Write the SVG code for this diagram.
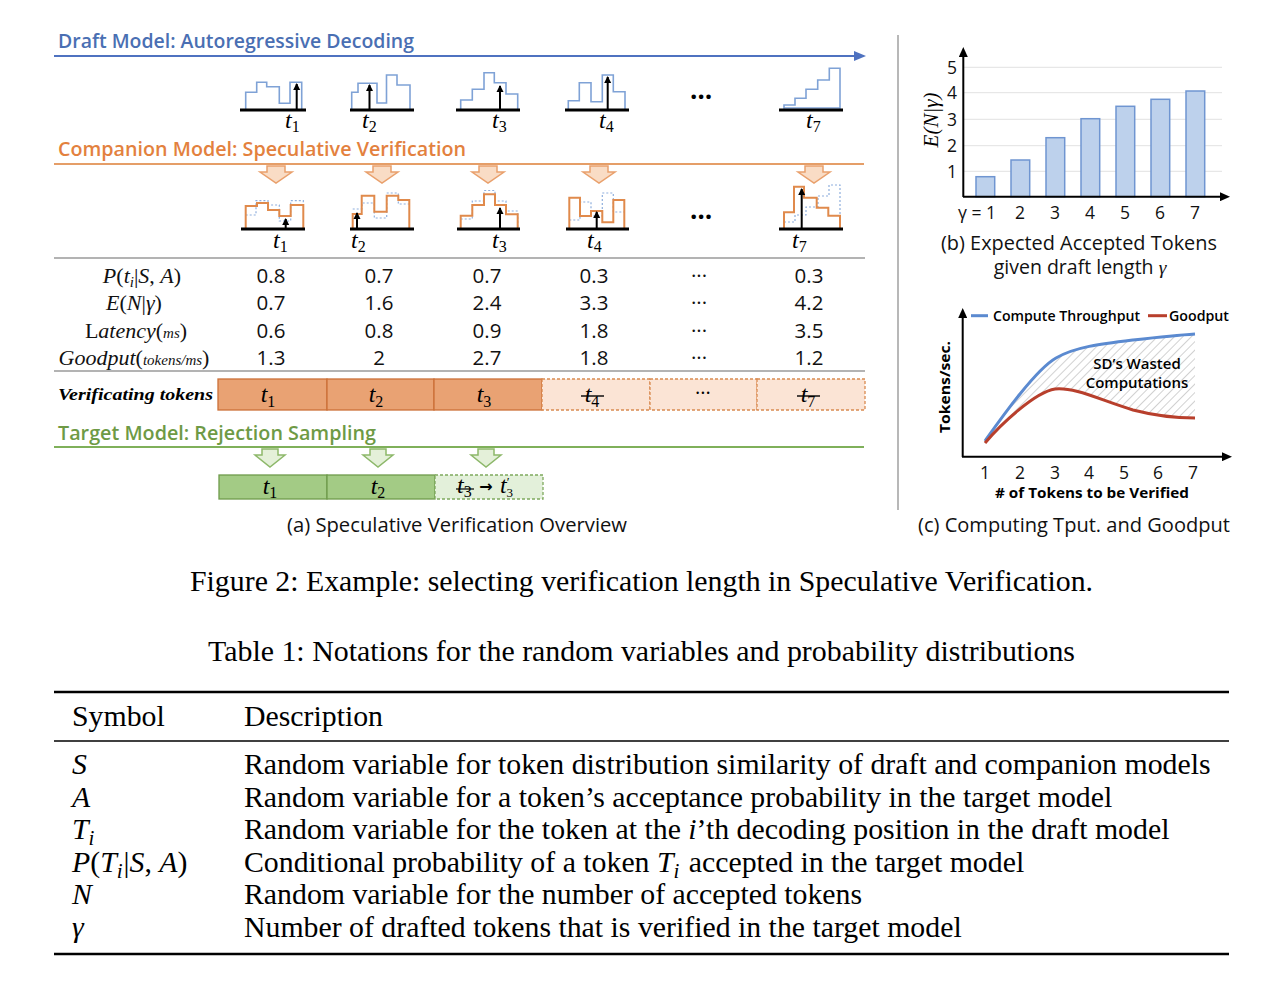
<svg xmlns="http://www.w3.org/2000/svg" width="1285" height="985" viewBox="0 0 1285 985">
<defs>
<style>
.ttl{font-family:'Open Sans','Noto Sans',sans-serif;font-weight:600;font-size:20.5px}
.num{font-family:'Open Sans','Noto Sans',sans-serif;font-size:20.5px;text-anchor:middle;fill:#111}
.tk{font-family:'Liberation Serif',serif;font-style:italic;font-size:24px;fill:#000}
.sub{font-style:normal;font-size:16px}
.lbl{font-family:'Liberation Serif',serif;font-size:22px;text-anchor:middle;fill:#111}
.cap{font-family:'Open Sans','Noto Sans',sans-serif;font-size:19.5px;fill:#111}
.ax{font-family:'Open Sans','Noto Sans',sans-serif;font-size:17.5px;fill:#111;text-anchor:middle}
.tnr{font-family:'Liberation Serif','Times New Roman',serif;font-size:29.8px;fill:#000}
.it{font-style:italic}
.base{stroke:#000;stroke-width:3.2}
.hb{fill:none;stroke:#7FA2D6;stroke-width:1.6}
.ho{fill:none;stroke:#E08A4C;stroke-width:2}
.hd{fill:none;stroke:#8EAEDD;stroke-width:1.2;stroke-dasharray:2 2}
.arr{stroke:#000;stroke-width:2;marker-end:url(#sa)}
.oa{fill:#F9DCC5;stroke:#E9A06C;stroke-width:1.5}
.ga{fill:#E4F0D9;stroke:#8DB86A;stroke-width:1.5}
.bar{fill:#BDD1EC;stroke:#6F95D1;stroke-width:1.5}
.grid{stroke:#E2E2E2;stroke-width:1}
.dots{font-family:'Open Sans',sans-serif;font-size:26px;font-weight:700;text-anchor:middle}
</style>
<marker id="sa" markerUnits="userSpaceOnUse" markerWidth="7" markerHeight="8" refX="3.5" refY="1" orient="0" overflow="visible"><path d="M0,7 L3.5,0 L7,7 z" fill="#000"/></marker>
<marker id="blueTri" markerUnits="userSpaceOnUse" markerWidth="12" markerHeight="10" refX="2" refY="5" orient="auto"><path d="M0,0 L12,5 L0,10 z" fill="#4F72C0"/></marker>
<marker id="axTri" markerUnits="userSpaceOnUse" markerWidth="10" markerHeight="9" refX="2" refY="4.5" orient="auto"><path d="M0,0 L10,4.5 L0,9 z" fill="#000"/></marker>
<pattern id="hatch" patternUnits="userSpaceOnUse" width="6" height="6" patternTransform="rotate(45)"><rect width="6" height="6" fill="#fff"/><line x1="0" y1="0" x2="0" y2="6" stroke="#BDBDBD" stroke-width="1.4"/></pattern>
</defs>
<rect width="1285" height="985" fill="#fff"/>

<!-- Draft model section -->
<g id="draft">
<text class="ttl" x="58" y="48" fill="#4A6FB3" textLength="356" lengthAdjust="spacingAndGlyphs">Draft Model: Autoregressive Decoding</text>
<line x1="54" y1="56" x2="856" y2="56" stroke="#4F72C0" stroke-width="2" marker-end="url(#blueTri)"/>
<g id="d1">
<path class="hb" d="M245.7,110 V92.3 H256.7 V82.3 H266.7 V86.7 H279.3 V103.3 H290 V82.3 H301.7 V110"/>
<line class="arr" x1="296.7" y1="110" x2="296.7" y2="84"/>
<line class="base" x1="240" y1="110" x2="306" y2="110"/>
<text class="tk" x="285" y="128">t<tspan class="sub" dy="4">1</tspan></text>
</g>
<g id="d2">
<path class="hb" d="M351.7,110 V92.3 H358 V83.3 H377 V103 H386.5 V75 H397 V85 H410 V110"/>
<line class="arr" x1="369.5" y1="110" x2="369.5" y2="85"/>
<line class="base" x1="350" y1="110" x2="414" y2="110"/>
<text class="tk" x="362" y="128">t<tspan class="sub" dy="4">2</tspan></text>
</g>
<g id="d3">
<path class="hb" d="M460.7,110 V100 H472.3 V89.3 H484 V72.7 H494.3 V82.7 H506 V94 H517.7 V110"/>
<line class="arr" x1="500" y1="110" x2="500" y2="86"/>
<line class="base" x1="456" y1="110" x2="520" y2="110"/>
<text class="tk" x="492" y="128">t<tspan class="sub" dy="4">3</tspan></text>
</g>
<g id="d4">
<path class="hb" d="M568.3,110 V100.7 H579.3 V82.7 H591 V101.7 H602.3 V75 H613.3 V91.7 H625 V110"/>
<line class="arr" x1="607.7" y1="110" x2="607.7" y2="77"/>
<line class="base" x1="565" y1="110" x2="629" y2="110"/>
<text class="tk" x="599" y="128">t<tspan class="sub" dy="4">4</tspan></text>
</g>
<text class="dots" x="701" y="99">…</text>
<g id="d7">
<path class="hb" d="M784,110 V105 H795 V98.3 H806 V89.3 H817.7 V80 H829.3 V68.3 H840 V110"/>
<line x1="784" y1="108" x2="840" y2="108" stroke="#7FA2D6" stroke-width="1.6"/>
<line class="base" x1="779" y1="110" x2="843" y2="110"/>
<text class="tk" x="806" y="128">t<tspan class="sub" dy="4">7</tspan></text>
</g>
</g>

<!-- Companion section -->
<g id="companion">
<text class="ttl" x="58" y="156" fill="#E3813E" textLength="408" lengthAdjust="spacingAndGlyphs">Companion Model: Speculative Verification</text>
<line x1="54" y1="164" x2="864" y2="164" stroke="#E59E68" stroke-width="2"/>
<path class="oa" d="M267,166 h18 v6 h7 l-16,11 l-16,-11 h7 z"/>
<path class="oa" d="M373,166 h18 v6 h7 l-16,11 l-16,-11 h7 z"/>
<path class="oa" d="M479,166 h18 v6 h7 l-16,11 l-16,-11 h7 z"/>
<path class="oa" d="M590,166 h18 v6 h7 l-16,11 l-16,-11 h7 z"/>
<path class="oa" d="M805,166 h18 v6 h7 l-16,11 l-16,-11 h7 z"/>
<g id="c1">
<path class="hd" d="M245.7,215 H256 V200.7 H268 V205 H279.3 V221 H290.7 V200.7 H303.3 V206"/>
<path class="ho" d="M245.7,229 V206 H257 V203 H268 V210 H279.3 V216 H290.7 V205 H303.3 V229"/>
<line class="arr" x1="285.7" y1="229" x2="285.7" y2="219"/>
<line class="base" x1="241" y1="229" x2="305" y2="229"/>
<text class="tk" x="273" y="248">t<tspan class="sub" dy="4">1</tspan></text>
</g>
<g id="c2">
<path class="hd" d="M352.7,209 H362 V203 H374.3 V218 H386.7 V193 H398.3 V204 H409.3"/>
<path class="ho" d="M352.7,229 V214 H361.7 V195.7 H374.3 V211.7 H386.7 V195.7 H398.3 V200 H409.3 V229"/>
<line class="arr" x1="357" y1="229" x2="357" y2="213"/>
<line class="base" x1="350" y1="229" x2="414" y2="229"/>
<text class="tk" x="351" y="248">t<tspan class="sub" dy="4">2</tspan></text>
</g>
<g id="c3">
<path class="hd" d="M460.7,219 H472.3 V201 H484 V190.5 H495 V201 H506 V211 H517.7 V229"/>
<path class="ho" d="M460.7,229 V215.7 H472.3 V205 H484 V194.3 H495 V205 H506 V214.3 H517.7 V229"/>
<line class="arr" x1="500" y1="229" x2="500" y2="208"/>
<line class="base" x1="457" y1="229" x2="520" y2="229"/>
<text class="tk" x="492" y="248">t<tspan class="sub" dy="4">3</tspan></text>
</g>
<g id="c4">
<path class="hd" d="M569.3,220 H580 V202 H591 V216 H602.3 V193 H613.3 V212 H624.3"/>
<path class="ho" d="M569.3,229 V197.7 H580 V216 H591 V211 H602.3 V222.3 H613.3 V200 H624.3 V229"/>
<line class="arr" x1="596.7" y1="229" x2="596.7" y2="212"/>
<line class="base" x1="566" y1="229" x2="629" y2="229"/>
<text class="tk" x="587" y="248">t<tspan class="sub" dy="4">4</tspan></text>
</g>
<text class="dots" x="701" y="219">…</text>
<g id="c7">
<path class="hd" d="M784,222 H795 V215 H806 V207 H818 V196 H829 V185 H840 V229"/>
<path class="ho" d="M784,229 V212.3 H794 V186.7 H804 V197.7 H816.7 V207.7 H828.3 V215.7 H840 V229"/>
<line class="arr" x1="801.7" y1="229" x2="801.7" y2="189"/>
<line class="base" x1="779" y1="229" x2="843" y2="229"/>
<text class="tk" x="792" y="248">t<tspan class="sub" dy="4">7</tspan></text>
</g>
</g>

<!-- Metrics table -->
<g id="metrics">
<line x1="54" y1="258" x2="865" y2="258" stroke="#9A9A9A" stroke-width="1.5"/>
<line x1="54" y1="371" x2="865" y2="371" stroke="#9A9A9A" stroke-width="1.5"/>
<text class="lbl" x="142" y="283"><tspan class="it">P</tspan>(<tspan class="it">t</tspan><tspan class="it" font-size="15" dy="4">i</tspan><tspan dy="-4">|</tspan><tspan class="it">S</tspan>, <tspan class="it">A</tspan>)</text>
<text class="lbl" x="134" y="310"><tspan class="it">E</tspan>(<tspan class="it">N</tspan>|<tspan class="it">γ</tspan>)</text>
<text class="lbl" x="136" y="338">L<tspan class="it">atency</tspan>(<tspan class="it" font-size="15">ms</tspan>)</text>
<text class="lbl" x="134" y="365"><tspan class="it">Goodput</tspan>(<tspan class="it" font-size="15">tokens/ms</tspan>)</text>
<g class="num">
<text x="271" y="283">0.8</text><text x="379" y="283">0.7</text><text x="487" y="283">0.7</text><text x="594" y="283">0.3</text><text x="699" y="283">···</text><text x="809" y="283">0.3</text>
<text x="271" y="310">0.7</text><text x="379" y="310">1.6</text><text x="487" y="310">2.4</text><text x="594" y="310">3.3</text><text x="699" y="310">···</text><text x="809" y="310">4.2</text>
<text x="271" y="338">0.6</text><text x="379" y="338">0.8</text><text x="487" y="338">0.9</text><text x="594" y="338">1.8</text><text x="699" y="338">···</text><text x="809" y="338">3.5</text>
<text x="271" y="365">1.3</text><text x="379" y="365">2</text><text x="487" y="365">2.7</text><text x="594" y="365">1.8</text><text x="699" y="365">···</text><text x="809" y="365">1.2</text>
</g>
</g>

<!-- Verificating tokens row -->
<g id="verify">
<text x="58" y="400" font-family="'Liberation Serif',serif" font-style="italic" font-weight="700" font-size="17.5" textLength="155" lengthAdjust="spacingAndGlyphs">Verificating tokens</text>
<rect x="218" y="379" width="109" height="31" fill="#E9A273" stroke="#CC7038" stroke-width="1.3"/>
<rect x="327" y="379" width="107" height="31" fill="#E9A273" stroke="#CC7038" stroke-width="1.3"/>
<rect x="434" y="379" width="108" height="31" fill="#E9A273" stroke="#CC7038" stroke-width="1.3"/>
<rect x="542" y="379" width="108" height="31" fill="#FBE4D5" stroke="#D98A50" stroke-width="1.3" stroke-dasharray="3 2"/>
<rect x="650" y="379" width="107" height="31" fill="#FBE4D5" stroke="#D98A50" stroke-width="1.3" stroke-dasharray="3 2"/>
<rect x="757" y="379" width="108" height="31" fill="#FBE4D5" stroke="#D98A50" stroke-width="1.3" stroke-dasharray="3 2"/>
<text class="tk" x="268" y="402" font-size="28" text-anchor="middle">t<tspan class="sub" font-size="19" dy="5">1</tspan></text>
<text class="tk" x="376" y="402" font-size="28" text-anchor="middle">t<tspan class="sub" font-size="19" dy="5">2</tspan></text>
<text class="tk" x="484" y="402" font-size="28" text-anchor="middle">t<tspan class="sub" font-size="19" dy="5">3</tspan></text>
<text class="tk" x="592" y="402" font-size="26" text-anchor="middle">t<tspan class="sub" font-size="17" dy="5">4</tspan></text>
<line x1="581" y1="396" x2="604" y2="396" stroke="#000" stroke-width="1.4"/>
<text x="703" y="400" font-family="'Open Sans',sans-serif" font-size="20" text-anchor="middle">···</text>
<text class="tk" x="808" y="402" font-size="26" text-anchor="middle">t<tspan class="sub" font-size="17" dy="5">7</tspan></text>
<line x1="797" y1="396" x2="820" y2="396" stroke="#000" stroke-width="1.4"/>
</g>

<!-- Target section -->
<g id="target">
<text class="ttl" x="58" y="440" fill="#6E9A45" textLength="318" lengthAdjust="spacingAndGlyphs">Target Model: Rejection Sampling</text>
<line x1="54" y1="447" x2="864" y2="447" stroke="#7FB05A" stroke-width="2"/>
<path class="ga" d="M262,449 h16 v6 h7 l-15,12 l-15,-12 h7 z"/>
<path class="ga" d="M370,449 h16 v6 h7 l-15,12 l-15,-12 h7 z"/>
<path class="ga" d="M478,449 h16 v6 h7 l-15,12 l-15,-12 h7 z"/>
<rect x="219" y="475" width="108" height="24" fill="#A3CB85" stroke="#6F9B4C" stroke-width="1.3"/>
<rect x="327" y="475" width="108" height="24" fill="#A3CB85" stroke="#6F9B4C" stroke-width="1.3"/>
<rect x="435" y="475" width="108" height="24" fill="#E3F0DA" stroke="#7FA95E" stroke-width="1.3" stroke-dasharray="3 2"/>
<text class="tk" x="270" y="494" font-size="21" text-anchor="middle">t<tspan class="sub" font-size="14" dy="4">1</tspan></text>
<text class="tk" x="378" y="494" font-size="21" text-anchor="middle">t<tspan class="sub" font-size="14" dy="4">2</tspan></text>
<text class="tk" x="457" y="493" font-size="20">t<tspan class="sub" font-size="13" dy="4">3</tspan></text>
<line x1="456" y1="489" x2="474" y2="489" stroke="#000" stroke-width="1.2"/>
<text x="486" y="492" font-family="'DejaVu Sans',sans-serif" font-weight="700" font-size="16" text-anchor="middle">→</text>
<text class="tk" x="500" y="493" font-size="20">t<tspan font-style="normal" font-size="13" dy="-7">′</tspan><tspan font-style="normal" font-size="13" dx="-3" dy="11">3</tspan></text>
<text class="cap" x="457" y="532" text-anchor="middle" textLength="340" lengthAdjust="spacingAndGlyphs">(a) Speculative Verification Overview</text>
</g>

<line x1="898" y1="35" x2="898" y2="510" stroke="#A0A0A0" stroke-width="1.5"/>

<!-- Chart b -->
<g id="chart-b">
<line class="grid" x1="964" y1="67.3" x2="1222" y2="67.3"/>
<line class="grid" x1="964" y1="92.7" x2="1222" y2="92.7"/>
<line class="grid" x1="964" y1="119.3" x2="1222" y2="119.3"/>
<line class="grid" x1="964" y1="145.7" x2="1222" y2="145.7"/>
<line class="grid" x1="964" y1="171.3" x2="1222" y2="171.3"/>
<rect class="bar" x="976" y="176.7" width="18.7" height="20"/>
<rect class="bar" x="1011" y="160" width="18.7" height="36.7"/>
<rect class="bar" x="1046" y="137.7" width="18.7" height="59"/>
<rect class="bar" x="1081" y="118.7" width="18.7" height="78"/>
<rect class="bar" x="1116" y="106.3" width="18.7" height="90.4"/>
<rect class="bar" x="1151" y="99.3" width="18.7" height="97.4"/>
<rect class="bar" x="1186" y="91" width="18.7" height="105.7"/>
<line x1="963.3" y1="197" x2="963.3" y2="55" stroke="#000" stroke-width="2" marker-end="url(#axTri)"/>
<line x1="963" y1="196.7" x2="1222" y2="196.7" stroke="#000" stroke-width="2" marker-end="url(#axTri)"/>
<g class="ax">
<text x="952" y="74">5</text><text x="952" y="99">4</text><text x="952" y="126">3</text><text x="952" y="152">2</text><text x="952" y="178">1</text>
<text x="977" y="219">γ = 1</text><text x="1020" y="219">2</text><text x="1055" y="219">3</text><text x="1090" y="219">4</text><text x="1125" y="219">5</text><text x="1160" y="219">6</text><text x="1195" y="219">7</text>
</g>
<text transform="translate(938,120) rotate(-90)" font-family="'Liberation Serif',serif" font-style="italic" font-size="21" text-anchor="middle">E(N|γ)</text>
<text class="cap" x="1079" y="250" text-anchor="middle" font-size="20" textLength="276" lengthAdjust="spacingAndGlyphs">(b) Expected Accepted Tokens</text>
<text class="cap" x="1080" y="274" text-anchor="middle" font-size="20">given draft length <tspan font-family="'Liberation Serif',serif" font-style="italic">γ</tspan></text>
</g>

<!-- Chart c -->
<g id="chart-c">
<path d="M985,441 C1000,420 1035,370 1056,358 C1075,347 1100,344 1133,340 C1160,337 1180,335 1195,334 V418 C1180,418 1160,417 1133,410 C1100,400 1075,387 1055,389 C1035,392 1000,425 985,443 Z" fill="url(#hatch)"/>
<path d="M985,441 C1000,420 1035,370 1056,358 C1075,347 1100,344 1133,340 C1160,337 1180,335 1195,334" fill="none" stroke="#5B8AD0" stroke-width="3"/>
<path d="M985,443 C1000,425 1035,392 1055,389 C1075,387 1100,400 1133,410 C1160,417 1180,418 1195,418" fill="none" stroke="#B83F2C" stroke-width="3"/>
<line x1="962.7" y1="457" x2="962.7" y2="316" stroke="#000" stroke-width="2" marker-end="url(#axTri)"/>
<line x1="962" y1="456.7" x2="1224" y2="456.7" stroke="#000" stroke-width="2" marker-end="url(#axTri)"/>
<line x1="971" y1="315.7" x2="988" y2="315.7" stroke="#5B8AD0" stroke-width="3"/>
<text x="993" y="321" font-family="'Open Sans',sans-serif" font-weight="600" font-size="14" textLength="147" lengthAdjust="spacingAndGlyphs">Compute Throughput</text>
<line x1="1148" y1="315.7" x2="1167" y2="315.7" stroke="#B83F2C" stroke-width="3"/>
<text x="1169" y="321" font-family="'Open Sans',sans-serif" font-weight="600" font-size="14" textLength="60" lengthAdjust="spacingAndGlyphs">Goodput</text>
<text transform="translate(950,387) rotate(-90)" font-family="'Open Sans',sans-serif" font-weight="700" font-size="15" text-anchor="middle" textLength="92" lengthAdjust="spacingAndGlyphs">Tokens/sec.</text>
<text x="1137" y="369" font-family="'Open Sans',sans-serif" font-weight="600" font-size="15" text-anchor="middle">SD’s Wasted</text>
<text x="1137" y="388" font-family="'Open Sans',sans-serif" font-weight="600" font-size="15" text-anchor="middle">Computations</text>
<g class="ax" font-size="18">
<text x="985" y="479">1</text><text x="1020" y="479">2</text><text x="1055" y="479">3</text><text x="1089" y="479">4</text><text x="1124" y="479">5</text><text x="1158" y="479">6</text><text x="1193" y="479">7</text>
</g>
<text x="1092" y="498" font-family="'Open Sans',sans-serif" font-weight="700" font-size="15" text-anchor="middle" textLength="194" lengthAdjust="spacingAndGlyphs"># of Tokens to be Verified</text>
<text class="cap" x="1074" y="532" text-anchor="middle" font-size="20" textLength="312" lengthAdjust="spacingAndGlyphs">(c) Computing Tput. and Goodput</text>
</g>

<!-- Captions -->
<text class="tnr" x="190" y="591" textLength="903" lengthAdjust="spacingAndGlyphs">Figure 2: Example: selecting verification length in Speculative Verification.</text>
<text class="tnr" x="208" y="661" textLength="867" lengthAdjust="spacingAndGlyphs">Table 1: Notations for the random variables and probability distributions</text>

<!-- Notation table -->
<g id="notation-table">
<line x1="54" y1="692" x2="1229" y2="692" stroke="#000" stroke-width="2.5"/>
<line x1="54" y1="741" x2="1229" y2="741" stroke="#000" stroke-width="1.3"/>
<line x1="54" y1="954" x2="1229" y2="954" stroke="#000" stroke-width="2.5"/>
<text class="tnr" x="72" y="726">Symbol</text>
<text class="tnr" x="244" y="726">Description</text>
<text class="tnr it" x="72" y="774">S</text>
<text class="tnr" x="244" y="774">Random variable for token distribution similarity of draft and companion models</text>
<text class="tnr it" x="72" y="807">A</text>
<text class="tnr" x="244" y="807">Random variable for a token’s acceptance probability in the target model</text>
<text class="tnr" x="72" y="839"><tspan class="it">T</tspan><tspan class="it" font-size="21" dy="6">i</tspan></text>
<text class="tnr" x="244" y="839">Random variable for the token at the <tspan class="it">i</tspan>’th decoding position in the draft model</text>
<text class="tnr" x="72" y="872"><tspan class="it">P</tspan>(<tspan class="it">T</tspan><tspan class="it" font-size="21" dy="6">i</tspan><tspan dy="-6" dx="1">|</tspan><tspan class="it">S</tspan>, <tspan class="it">A</tspan>)</text>
<text class="tnr" x="244" y="872">Conditional probability of a token <tspan class="it">T</tspan><tspan class="it" font-size="21" dy="6">i</tspan><tspan dy="-6" dx="2"> accepted in the target model</tspan></text>
<text class="tnr it" x="72" y="904">N</text>
<text class="tnr" x="244" y="904">Random variable for the number of accepted tokens</text>
<text class="tnr it" x="72" y="937">γ</text>
<text class="tnr" x="244" y="937">Number of drafted tokens that is verified in the target model</text>
</g>
</svg>
